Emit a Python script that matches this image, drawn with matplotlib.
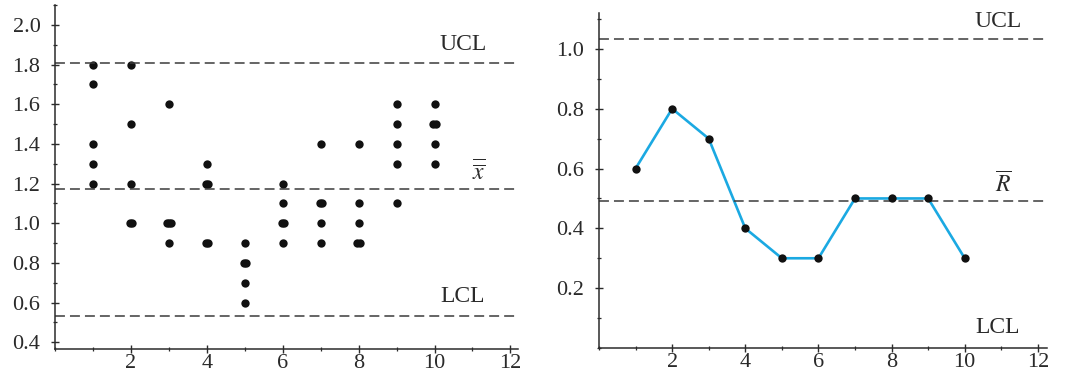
import numpy as np
import matplotlib.pyplot as plt
from matplotlib.ticker import MultipleLocator

plt.rcParams["font.family"] = ["Liberation Serif", "DejaVu Serif"]
plt.rcParams["mathtext.fontset"] = "stix"

samples = [1, 2, 3, 4, 5, 6, 7, 8, 9, 10]
values = [
    [1.8, 1.7, 1.4, 1.3, 1.2],
    [1.8, 1.5, 1.2, 1.0, 1.0],
    [1.6, 1.0, 1.0, 1.0, 0.9],
    [1.3, 1.2, 1.2, 0.9, 0.9],
    [0.9, 0.8, 0.8, 0.7, 0.6],
    [1.2, 1.1, 1.0, 1.0, 0.9],
    [1.4, 1.1, 1.1, 1.0, 0.9],
    [1.4, 1.1, 1.0, 0.9, 0.9],
    [1.6, 1.5, 1.4, 1.3, 1.1],
    [1.6, 1.5, 1.5, 1.4, 1.3],
]
ranges = [0.6, 0.8, 0.7, 0.4, 0.3, 0.3, 0.5, 0.5, 0.5, 0.3]

xbar_limits = {"UCL": 1.81, "center": 1.17, "LCL": 0.53}
r_limits = {"UCL": 1.033, "center": 0.49, "LCL": 0.0}

DARK = "#2b2b2b"
TEXT = "#2a2a2a"
LINE_BLUE = "#1ba9e2"
DASH_KW = dict(color="#3a3a3a", linewidth=1.1, dashes=(6.5, 3.3))
LABEL_SIZE = 17

fig = plt.figure(figsize=(10.79, 3.81), dpi=100)
ax1 = fig.add_axes([55 / 1079, 1 - 349 / 381, 463 / 1079, 344 / 381])
ax2 = fig.add_axes([599 / 1079, 1 - 348 / 381, 448 / 1079, 335 / 381])


def style(ax):
    for side in ["top", "right"]:
        ax.spines[side].set_visible(False)
    for side in ["left", "bottom"]:
        ax.spines[side].set_color(DARK)
        ax.spines[side].set_linewidth(1.1)
    ax.tick_params(which="major", direction="inout", length=6, width=1.0,
                   color=DARK, labelsize=16, labelcolor=TEXT)
    ax.tick_params(axis="y", which="major", pad=7.5)
    ax.tick_params(axis="x", which="major", pad=0.5)
    ax.tick_params(which="minor", direction="inout", length=3.5, width=0.9,
                   color=DARK)
    ax.xaxis.set_major_locator(MultipleLocator(2))
    ax.xaxis.set_minor_locator(MultipleLocator(1))


# --- x-bar chart ---
style(ax1)
for s, vals in zip(samples, values):
    uniq, counts = np.unique(vals, return_counts=True)
    for v, c in zip(uniq, counts):
        # repeated readings sit side by side
        offs = (np.arange(c) - (c - 1) / 2) * 0.06
        ax1.plot(s + offs, [v] * c, "o", color="#111111", markersize=6,
                 markeredgewidth=0)

for key in ["UCL", "center", "LCL"]:
    ax1.axhline(xbar_limits[key], **DASH_KW)

ax1.text(10.75, xbar_limits["UCL"] + 0.09, "UCL", fontsize=LABEL_SIZE,
         color=TEXT, ha="center", va="center")
ax1.text(11.15, xbar_limits["center"] + 0.08, r"$\overline{\overline{x}}$",
         fontsize=LABEL_SIZE, color=TEXT, ha="center", va="center")
ax1.text(10.75, xbar_limits["LCL"] + 0.1, "LCL", fontsize=LABEL_SIZE,
         color=TEXT, ha="center", va="center")

ax1.set_xlim(0, 12.2)
ax1.set_ylim(0.366, 2.1)
ax1.set_xticks([2, 4, 6, 8, 10, 12])
ax1.yaxis.set_minor_locator(MultipleLocator(0.1))
ax1.set_yticks(np.arange(0.4, 2.01, 0.2))
ax1.set_yticklabels([f"{t:.1f}" for t in np.arange(0.4, 2.01, 0.2)])

# --- R chart ---
style(ax2)
ax2.plot(samples, ranges, color=LINE_BLUE, linewidth=1.9, zorder=2)
ax2.plot(samples, ranges, "o", color="#111111", markersize=6,
         markeredgewidth=0, zorder=3)
for key in ["UCL", "center"]:
    ax2.axhline(r_limits[key], **DASH_KW)

ax2.text(10.9, r_limits["UCL"] + 0.06, "UCL", fontsize=LABEL_SIZE, color=TEXT,
         ha="center", va="center")
ax2.text(11.05, r_limits["center"] + 0.055, r"$\overline{R}$",
         fontsize=LABEL_SIZE, color=TEXT, ha="center", va="center")
ax2.text(10.9, r_limits["LCL"] + 0.07, "LCL", fontsize=LABEL_SIZE, color=TEXT,
         ha="center", va="center")

ax2.set_xlim(0, 12.25)
ax2.set_ylim(0, 1.12)
ax2.set_xticks([2, 4, 6, 8, 10, 12])
ax2.set_yticks([0.2, 0.4, 0.6, 0.8, 1.0])
ax2.set_yticklabels(["0.2", "0.4", "0.6", "0.8", "1.0"])
ax2.yaxis.set_minor_locator(MultipleLocator(0.1))

fig.savefig("out.png", dpi=100)
